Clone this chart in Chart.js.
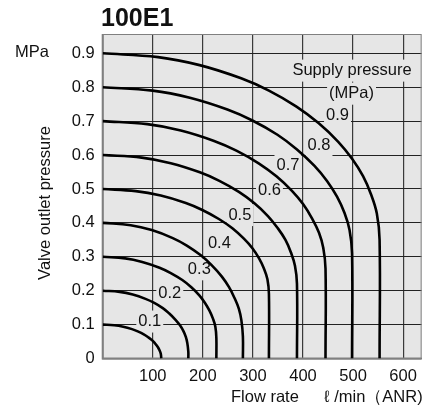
<!DOCTYPE html>
<html>
<head>
<meta charset="utf-8">
<script src="https://cdn.jsdelivr.net/npm/chart.js@4/dist/chart.umd.min.js"></script>
<style>
    html, body { margin: 0; background: #fff; }
    #wrap { width: 425px; height: 407px; }
</style>
</head>
<body>
<div id="wrap"><canvas id="flowChart"></canvas></div>
<script>
// supply pressure of each curve (MPa)
const supplyPressures = ['0.1', '0.2', '0.3', '0.4', '0.5', '0.6', '0.7', '0.8', '0.9'];

// outlet pressure curves: [flow rate l/min, outlet pressure MPa]
const curve01 = [[0, 0.1], [23, 0.098], [41, 0.0937], [58.5, 0.0866], [70, 0.08], [82, 0.0714], [91, 0.0626], [99.5, 0.0527], [105, 0.0436], [110, 0.0341], [113.5, 0.0243], [116, 0.0141], [117, 0]];
const curve02 = [[0, 0.2], [34, 0.1964], [60, 0.1886], [85.5, 0.1759], [103, 0.164], [120, 0.1485], [133, 0.1326], [145, 0.1148], [154, 0.0985], [161, 0.0814], [166, 0.0638], [169, 0.0454], [171, 0.02], [171, 0]];
const curve03 = [[0, 0.3], [45, 0.2952], [79, 0.2848], [113.5, 0.2678], [136, 0.252], [159, 0.2314], [177, 0.2102], [193, 0.1864], [204, 0.1646], [213, 0.1419], [220, 0.1183], [225, 0.0939], [227, 0.06], [227, 0]];
const curve04 = [[0, 0.4], [56, 0.3932], [98, 0.3788], [140, 0.3551], [168, 0.333], [196, 0.3042], [218, 0.2746], [238, 0.2415], [252, 0.211], [263, 0.1793], [272, 0.1464], [277, 0.1123], [280, 0.065], [280, 0]];
const curve05 = [[0, 0.5], [66, 0.4937], [116, 0.4804], [166, 0.4585], [199, 0.438], [232, 0.4114], [259, 0.384], [282, 0.3533], [299, 0.3251], [312, 0.2958], [322, 0.2654], [329, 0.2337], [332, 0.19], [332, 0]];
const curve06 = [[0, 0.6], [78, 0.5923], [136, 0.5759], [194, 0.5491], [233, 0.524], [272, 0.4914], [303, 0.4578], [330, 0.4202], [349, 0.3856], [365, 0.3497], [376, 0.3124], [384, 0.2736], [388, 0.22], [388, 0]];
const curve07 = [[0, 0.7], [89, 0.6912], [156, 0.6725], [222.5, 0.6417], [267, 0.613], [311.5, 0.5756], [347, 0.5372], [378, 0.4942], [400.5, 0.4546], [418, 0.4134], [432, 0.3707], [440.5, 0.3264], [445, 0.265], [445, 0]];
const curve08 = [[0, 0.8], [99.6, 0.7901], [174, 0.769], [249, 0.7343], [299, 0.702], [349, 0.6599], [388, 0.6166], [423, 0.5681], [448, 0.5236], [468, 0.4772], [483, 0.4291], [493, 0.3791], [498, 0.31], [498, 0]];
const curve09 = [[0, 0.9], [110.6, 0.8889], [193.5, 0.8652], [276.5, 0.8263], [332, 0.79], [387, 0.7428], [431, 0.6942], [470, 0.6397], [497.7, 0.5897], [520, 0.5377], [536, 0.4837], [547.5, 0.4276], [553, 0.35], [553, 0]];
const curves = [curve01, curve02, curve03, curve04, curve05, curve06, curve07, curve08, curve09];

// axis ticks
const xTickValues = [0, 100, 200, 300, 400, 500, 600];
const yTickValues = [0, 0.1, 0.2, 0.3, 0.4, 0.5, 0.6, 0.7, 0.8, 0.9];

// where the curve labels sit (data units)
const labelSpots = [
    { text: '0.1', x: 94, y: 0.109 },
    { text: '0.2', x: 134, y: 0.192 },
    { text: '0.3', x: 193, y: 0.263 },
    { text: '0.4', x: 233, y: 0.34 },
    { text: '0.5', x: 274, y: 0.423 },
    { text: '0.6', x: 333, y: 0.496 },
    { text: '0.7', x: 370, y: 0.568 },
    { text: '0.8', x: 432, y: 0.628 },
    { text: '0.9', x: 469, y: 0.717 },
    { text: 'Supply pressure', x: 498, y: 0.849 },
    { text: '(MPa)', x: 497, y: 0.781 }
];

const FONT = '"Liberation Sans", Arial, Helvetica, sans-serif';
const PLOT_BG = '#e6e6e6';

// background, frame, labels and titles
const paperPlugin = {
    id: 'paper',
    beforeDraw(chart) {
        const a = chart.chartArea;
        const ctx = chart.ctx;
        ctx.save();
        ctx.fillStyle = PLOT_BG;
        ctx.fillRect(a.left, a.top, a.right - a.left, a.bottom - a.top);
        ctx.restore();
    },
    beforeDatasetsDraw(chart) {
        const a = chart.chartArea;
        const ctx = chart.ctx;
        const xs = chart.scales.x;
        const ys = chart.scales.y;
        ctx.save();

        // frame
        ctx.strokeStyle = '#808080';
        ctx.lineWidth = 1;
        ctx.strokeRect(a.left, a.top + 0.5, a.right - a.left - 0.5, a.bottom - a.top);
        ctx.lineWidth = 2;
        ctx.beginPath();
        ctx.moveTo(a.left, a.top);
        ctx.lineTo(a.left, a.bottom);
        ctx.lineTo(a.right, a.bottom);
        ctx.stroke();

        // curve labels with a box that hides the grid
        ctx.font = '16.5px ' + FONT;
        ctx.textAlign = 'center';
        ctx.textBaseline = 'middle';
        labelSpots.forEach(l => {
            const px = xs.getPixelForValue(l.x);
            const py = ys.getPixelForValue(l.y);
            const w = ctx.measureText(l.text).width;
            ctx.fillStyle = PLOT_BG;
            ctx.fillRect(px - w / 2 - 2, py - 11, w + 4, 22);
            ctx.fillStyle = '#111';
            ctx.fillText(l.text, px, py);
        });
        ctx.restore();
    },
    afterDraw(chart) {
        const a = chart.chartArea;
        const ctx = chart.ctx;
        ctx.save();
        ctx.fillStyle = '#111';

        // title
        ctx.font = 'bold 25px ' + FONT;
        ctx.textAlign = 'left';
        ctx.textBaseline = 'alphabetic';
        ctx.fillText('100E1', 101, 26);

        // unit
        ctx.font = '16.5px ' + FONT;
        ctx.textBaseline = 'middle';
        ctx.fillText('MPa', 15, 52);

        // x axis title
        ctx.fillText('Flow rate', 231, 397);
        ctx.textAlign = 'right';
        ctx.fillText('\u2113 /min\uFF08ANR)', a.right + 1, 397);

        // y axis title
        ctx.translate(45, 203);
        ctx.rotate(-Math.PI / 2);
        ctx.textAlign = 'center';
        ctx.fillText('Valve outlet pressure', 0, 0);
        ctx.restore();
    }
};

function createChart() {
    const ctx = document.getElementById('flowChart').getContext('2d');

    const datasets = curves.map((c, i) => ({
        label: supplyPressures[i],
        data: c.map(p => ({ x: p[0], y: p[1] })),
        borderColor: '#000',
        borderWidth: 2.6,
        pointRadius: 0,
        fill: false,
        tension: 0.4
    }));

    new Chart(ctx, {
        type: 'line',
        data: { datasets: datasets },
        options: {
            responsive: true,
            maintainAspectRatio: false,
            animation: false,
            layout: { padding: { top: 34, right: 2, left: 0, bottom: 0 } },
            plugins: {
                legend: { display: false },
                tooltip: { enabled: false }
            },
            scales: {
                x: {
                    type: 'linear',
                    min: 0,
                    max: 637,
                    afterBuildTicks: scale => { scale.ticks = xTickValues.map(v => ({ value: v })); },
                    afterFit: scale => { scale.height = 48.5; },
                    border: { display: false },
                    grid: { color: '#3a3a3a', lineWidth: 1.2, drawTicks: false },
                    ticks: {
                        padding: 8,
                        color: '#111',
                        font: { family: FONT, size: 16.5 },
                        callback: v => (v === 0 ? '' : String(v))
                    }
                },
                y: {
                    min: 0,
                    max: 0.957,
                    afterBuildTicks: scale => { scale.ticks = yTickValues.map(v => ({ value: v })); },
                    afterFit: scale => { scale.width = 102.7; },
                    border: { display: false },
                    grid: { color: '#222', lineWidth: 1, drawTicks: false },
                    ticks: {
                        padding: 8,
                        color: '#111',
                        font: { family: FONT, size: 16.5 },
                        callback: v => (v === 0 ? '0' : v.toFixed(1))
                    }
                }
            }
        },
        plugins: [paperPlugin]
    });
}

createChart();
</script>
</body>
</html>
